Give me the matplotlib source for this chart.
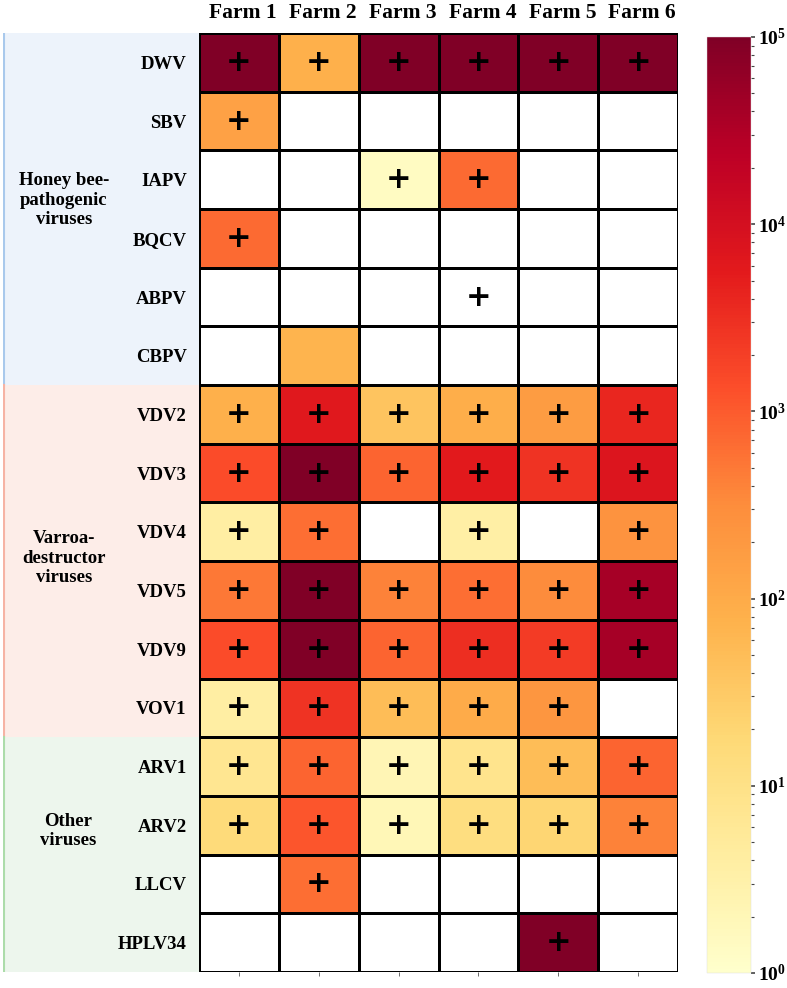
import numpy as np
import matplotlib
matplotlib.use("Agg")
from matplotlib import pyplot as plt
from matplotlib.colors import LogNorm

plt.rcParams['font.family'] = 'Liberation Serif'
plt.rcParams['mathtext.fontset'] = 'custom'
plt.rcParams['mathtext.rm'] = 'Liberation Serif'
plt.rcParams['mathtext.bf'] = 'Liberation Serif:bold'

farms = ["Farm 1", "Farm 2", "Farm 3", "Farm 4", "Farm 5", "Farm 6"]
viruses = ["DWV", "SBV", "IAPV", "BQCV", "ABPV", "CBPV",
           "VDV2", "VDV3", "VDV4", "VDV5", "VDV9", "VOV1",
           "ARV1", "ARV2", "LLCV", "HPLV34"]
groups = ["Honey bee-\npathogenic\nviruses", "Varroa-\ndestructor\nviruses", "Other\nviruses"]
group_sizes = [6, 6, 4]

nan = np.nan
# log10 of the abundance read from the colour scale, nan = not coloured
log_abund = [
    [5.0, 1.9, 5.0, 5.0, 5.0, 5.0],      # DWV
    [2.15, nan, nan, nan, nan, nan],     # SBV
    [nan, nan, 0.15, 2.85, nan, nan],    # IAPV
    [2.85, nan, nan, nan, nan, nan],     # BQCV
    [nan, nan, nan, nan, nan, nan],      # ABPV
    [nan, 1.85, nan, nan, nan, nan],     # CBPV
    [1.9, 3.8, 1.6, 1.95, 2.25, 3.6],    # VDV2
    [3.15, 5.0, 2.9, 3.75, 3.45, 3.85],  # VDV3
    [0.6, 2.8, nan, 0.55, nan, 2.4],     # VDV4
    [2.7, 5.0, 2.6, 2.8, 2.5, 4.6],      # VDV5
    [3.15, 5.0, 2.9, 3.5, 3.35, 4.6],    # VDV9
    [0.6, 3.45, 1.7, 2.0, 2.35, nan],    # VOV1
    [0.85, 2.9, 0.35, 0.9, 1.7, 2.9],    # ARV1
    [1.2, 3.05, 0.3, 1.1, 1.3, 2.6],     # ARV2
    [nan, 2.8, nan, nan, nan, nan],      # LLCV
    [nan, nan, nan, nan, 5.0, nan],      # HPLV34
]
# 1 = virus detected (+)
detected = [
    [1, 1, 1, 1, 1, 1],
    [1, 0, 0, 0, 0, 0],
    [0, 0, 1, 1, 0, 0],
    [1, 0, 0, 0, 0, 0],
    [0, 0, 0, 1, 0, 0],
    [0, 0, 0, 0, 0, 0],
    [1, 1, 1, 1, 1, 1],
    [1, 1, 1, 1, 1, 1],
    [1, 1, 0, 1, 0, 1],
    [1, 1, 1, 1, 1, 1],
    [1, 1, 1, 1, 1, 1],
    [1, 1, 1, 1, 1, 0],
    [1, 1, 1, 1, 1, 1],
    [1, 1, 1, 1, 1, 1],
    [0, 1, 0, 0, 0, 0],
    [0, 0, 0, 0, 1, 0],
]

vals = np.ma.masked_invalid(10.0 ** np.array(log_abund))
nrow, ncol = vals.shape

fig = plt.figure(figsize=(7.87, 9.88), dpi=100)

# coloured group bands behind the row labels
bg = fig.add_axes([0.004, 0.0162, 0.249, 0.9504])
bg.set_xlim(0, 1)
bg.set_ylim(nrow, 0)
bg.axis("off")
band_col = ["#edf3fb", "#fdede8", "#edf6ed"]
edge_col = ["#a9c9ec", "#f6b3a4", "#acdcaa"]
label_y = [2.85, 8.95, 13.6]
label_x = [0.31, 0.31, 0.33]
start = 0
for g, n in enumerate(group_sizes):
    bg.axhspan(start, start + n, color=band_col[g], lw=0)
    bg.plot([0.005, 0.005], [start, start + n], color=edge_col[g], lw=1.5)
    bg.text(label_x[g], label_y[g], groups[g], ha="center", va="center",
            fontsize=13.5, fontweight="bold", linespacing=1.2)
    start += n

ax = fig.add_axes([0.253, 0.0162, 0.6085, 0.9504])
cmap = plt.get_cmap("YlOrRd").copy()
cmap.set_bad("white")
norm = LogNorm(vmin=1, vmax=1e5)
mesh = ax.pcolormesh(np.arange(ncol + 1), np.arange(nrow + 1), vals, cmap=cmap,
                     norm=norm, edgecolors="black", linewidth=2)
ax.set_xlim(0, ncol)
ax.set_ylim(nrow, 0)

for i in range(nrow):
    for j in range(ncol):
        if detected[i][j]:
            ax.text(j + 0.5, i + 0.5, "+", ha="center", va="center",
                    fontsize=22, fontweight="bold", family="DejaVu Sans")

ax.set_yticks(np.arange(nrow) + 0.5)
ax.set_yticklabels(viruses, fontsize=13.5, fontweight="bold")
ax.tick_params(axis="y", length=0, pad=9)
ax.set_xticks(np.arange(ncol) + 0.5)
ax.set_xticklabels([])
ax.tick_params(axis="x", length=3, width=0.6, color="#555555")
for s in ax.spines.values():
    s.set_visible(False)

for j, f in enumerate(farms):
    ax.text(j + 0.55, -0.26, f, ha="center", va="baseline", fontsize=15.5,
            fontweight="bold")

cax = fig.add_axes([0.898, 0.0152, 0.056, 0.9474])
cb = fig.colorbar(mesh, cax=cax)
cb.outline.set_linewidth(0.3)
cb.outline.set_edgecolor("#dddddd")
cb.set_ticks([1, 10, 100, 1e3, 1e4, 1e5])
cb.set_ticklabels([r"$\mathbf{10^{%d}}$" % k for k in range(6)])
cax.tick_params(which="major", length=3, width=1.2, labelsize=14, pad=2,
                color="#444444")
cax.tick_params(which="minor", length=2, width=0.8, color="#444444")

fig.savefig("out.png", dpi=100)
